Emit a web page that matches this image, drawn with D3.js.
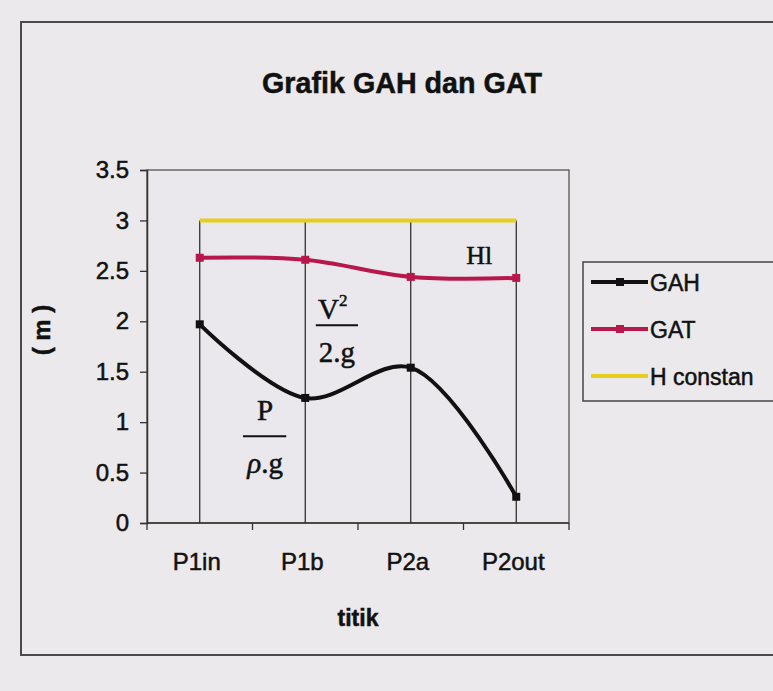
<!DOCTYPE html>
<html>
<head>
<meta charset="utf-8">
<script src="https://cdn.jsdelivr.net/npm/d3@7"></script>
<style>
  body { margin: 0; background: #ebe9ec; }
  text { font-family: "Liberation Sans", Arial, sans-serif; fill: #111; stroke: #111; stroke-width: 0.5; }
</style>
</head>
<body>
<div id="chart"></div>
<script>
// Data
const categories = ["P1in", "P1b", "P2a", "P2out"];
const gah = [1.97, 1.24, 1.54, 0.26];
const gat = [2.63, 2.61, 2.44, 2.43];
const hConstan = [3, 3, 3, 3];
const yTicks = [0, 0.5, 1, 1.5, 2, 2.5, 3, 3.5];
const seriesNames = ["GAH", "GAT", "H constan"];
const seriesColors = ["#111111", "#b8174c", "#e3cf1c"];

// Dimensions
const width = 773;
const height = 691;
const marginTop = 170;
const marginRight = 204;
const marginBottom = 168;
const marginLeft = 147;

const series = [
  {name: seriesNames[0], values: gah, color: seriesColors[0], marker: true},
  {name: seriesNames[1], values: gat, color: seriesColors[1], marker: true},
  {name: seriesNames[2], values: hConstan, color: seriesColors[2], marker: false}
];

// Scales
const x = d3.scalePoint(categories, [marginLeft, width - marginRight]).padding(0.5);
const xBand = d3.scaleBand(categories, [marginLeft, width - marginRight]);
const y = d3.scaleLinear([0, 3.5], [height - marginBottom, marginTop]);

const svg = d3.create("svg")
    .attr("viewBox", [0, 0, width, height])
    .attr("width", width)
    .attr("height", height);

// outer chart border
svg.append("rect")
    .attr("x", 21).attr("y", 22)
    .attr("width", width + 10).attr("height", 633)
    .attr("fill", "#ebe9ec")
    .attr("stroke", "#4a4a4a")
    .attr("stroke-width", 2);

// plot area
svg.append("rect")
    .attr("x", marginLeft).attr("y", marginTop)
    .attr("width", width - marginRight - marginLeft)
    .attr("height", height - marginBottom - marginTop)
    .attr("fill", "#eae8ec")
    .attr("stroke", "#555")
    .attr("stroke-width", 1.3);

// title
svg.append("text")
    .attr("x", 402).attr("y", 93)
    .attr("text-anchor", "middle")
    .attr("font-size", 30)
    .attr("font-weight", "bold")
    .attr("textLength", 280)
    .attr("lengthAdjust", "spacingAndGlyphs")
    .text("Grafik GAH dan GAT");

// drop lines from highest value down to the axis
svg.append("g")
    .attr("stroke", "#222")
    .attr("stroke-width", 1.2)
    .selectAll("line")
    .data(categories)
    .join("line")
      .attr("x1", d => x(d)).attr("x2", d => x(d))
      .attr("y1", (d, i) => y(d3.max(series, s => s.values[i])))
      .attr("y2", y(0));

// Y axis
svg.append("g")
    .attr("transform", `translate(${marginLeft},0)`)
    .call(d3.axisLeft(y).tickValues(yTicks).tickFormat(d3.format("")).tickSize(7).tickPadding(11))
    .call(g => g.select(".domain").attr("stroke", "#333").attr("stroke-width", 1.5))
    .call(g => g.selectAll(".tick line").attr("stroke", "#333").attr("stroke-width", 1.3))
    .call(g => g.selectAll(".tick text")
        .attr("font-size", 24)
        .attr("font-family", "Liberation Sans, Arial, sans-serif")
        .attr("fill", "#111"));

// X axis, ticks between categories
const xEdges = categories.map(c => xBand(c)).concat([xBand.range()[1]]);
const xAxis = svg.append("g")
    .attr("transform", `translate(0,${y(0)})`);
xAxis.append("line")
    .attr("x1", marginLeft).attr("x2", width - marginRight)
    .attr("stroke", "#333").attr("stroke-width", 1.5);
xAxis.selectAll(".edge")
    .data(xEdges)
    .join("line")
      .attr("class", "edge")
      .attr("x1", d => d).attr("x2", d => d)
      .attr("y1", 0).attr("y2", 7)
      .attr("stroke", "#333").attr("stroke-width", 1.3);
xAxis.selectAll("text")
    .data(categories)
    .join("text")
      .attr("x", d => x(d) - 3)
      .attr("y", 47)
      .attr("text-anchor", "middle")
      .attr("font-size", 24)
      .text(d => d);

// axis titles
svg.append("text")
    .attr("x", 358).attr("y", 626)
    .attr("text-anchor", "middle")
    .attr("font-size", 23)
    .attr("font-weight", "bold")
    .text("titik");

svg.append("text")
    .attr("transform", "translate(50,330) rotate(-90)")
    .attr("text-anchor", "middle")
    .attr("font-size", 24)
    .attr("font-weight", "bold")
    .text("( m )");

// Lines
const line = d3.line()
    .x((v, i) => x(categories[i]))
    .y(v => y(v))
    .curve(d3.curveCatmullRom.alpha(0.5));

const g = svg.append("g")
    .selectAll("g")
    .data(series.slice().reverse())
    .join("g");

g.append("path")
    .attr("fill", "none")
    .attr("stroke", d => d.color)
    .attr("stroke-width", 4)
    .attr("stroke-linejoin", "round")
    .attr("d", d => line(d.values));

g.filter(d => d.marker)
    .selectAll("rect")
    .data(d => d.values.map((v, i) => ({v, i, color: d.color})))
    .join("rect")
      .attr("x", d => x(categories[d.i]) - 4)
      .attr("y", d => y(d.v) - 4)
      .attr("width", 8).attr("height", 8)
      .attr("fill", d => d.color);

// Annotations (serif, hand placed in data space)
const serif = "Liberation Serif, Times New Roman, serif";
const annot = svg.append("g").attr("font-family", serif);
const between = (a, t) => x(categories[a]) + t * x.step();

// P / rho.g
annot.append("text")
    .attr("x", between(0, 0.62)).attr("y", y(1.02))
    .attr("text-anchor", "middle").attr("font-size", 29)
    .style("font-family", serif)
    .text("P");
annot.append("line")
    .attr("x1", between(0, 0.41)).attr("x2", between(0, 0.82))
    .attr("y1", y(0.86)).attr("y2", y(0.86))
    .attr("stroke", "#111").attr("stroke-width", 2);
const rho = annot.append("text")
    .attr("x", between(0, 0.62)).attr("y", y(0.5))
    .attr("text-anchor", "middle").attr("font-size", 29)
    .style("font-family", serif);
rho.append("tspan").attr("font-style", "italic").text("ρ");
rho.append("tspan").text(".g");

// V^2 / 2.g
const v2 = annot.append("text")
    .attr("x", between(1, 0.26)).attr("y", y(2.02))
    .attr("text-anchor", "middle").attr("font-size", 29)
    .style("font-family", serif);
v2.append("tspan").text("V");
v2.append("tspan").attr("font-size", 17).attr("dy", -13).text("2");
annot.append("line")
    .attr("x1", between(1, 0.1)).attr("x2", between(1, 0.5))
    .attr("y1", y(1.96)).attr("y2", y(1.96))
    .attr("stroke", "#111").attr("stroke-width", 2);
annot.append("text")
    .attr("x", between(1, 0.3)).attr("y", y(1.6))
    .attr("text-anchor", "middle").attr("font-size", 29)
    .style("font-family", serif)
    .text("2.g");

// Hl
annot.append("text")
    .attr("x", between(2, 0.65)).attr("y", y(2.57))
    .attr("text-anchor", "middle").attr("font-size", 26)
    .style("font-family", serif)
    .text("Hl");

// Legend
const legend = svg.append("g").attr("transform", "translate(583,262)");
legend.append("rect")
    .attr("width", 200).attr("height", 139)
    .attr("fill", "#ebe9ec")
    .attr("stroke", "#444").attr("stroke-width", 1.5);
const item = legend.selectAll(".item")
    .data(series)
    .join("g")
      .attr("class", "item")
      .attr("transform", (d, i) => `translate(0,${20 + i * 47})`);
item.append("line")
    .attr("x1", 8).attr("x2", 65)
    .attr("stroke", d => d.color).attr("stroke-width", 4);
item.filter(d => d.marker).append("rect")
    .attr("x", 33).attr("y", -4).attr("width", 8).attr("height", 8)
    .attr("fill", d => d.color);
item.append("text")
    .attr("x", 67).attr("y", 9)
    .attr("font-size", 23)
    .text(d => d.name);

document.getElementById("chart").appendChild(svg.node());
</script>
</body>
</html>
